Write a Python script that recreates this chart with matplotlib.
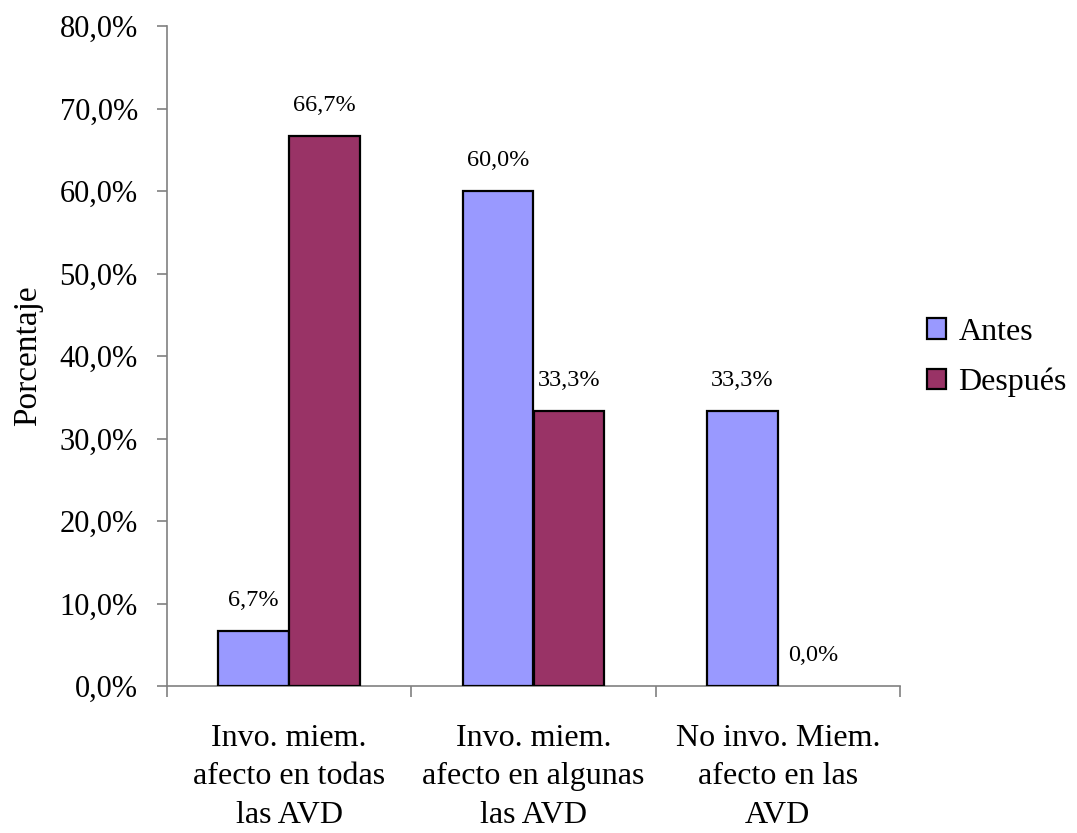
import matplotlib
matplotlib.use("Agg")
import matplotlib.pyplot as plt
import numpy as np

plt.rcParams['font.family'] = ['Liberation Serif', 'DejaVu Serif']

categories = ["Invo. miem.\nafecto en todas\nlas AVD",
              "Invo. miem.\nafecto en algunas\nlas AVD",
              "No invo. Miem.\nafecto en las\nAVD"]
antes = [6.7, 60.0, 33.3]
despues = [66.7, 33.3, 0.0]
series_names = ["Antes", "Después"]
yticks = [0, 10, 20, 30, 40, 50, 60, 70, 80]

fig = plt.figure(figsize=(10.77, 8.33), dpi=100)
ax = fig.add_axes([167 / 1077, 1 - 686 / 833, (900 - 167) / 1077, (686 - 26) / 833])

x = np.arange(len(categories))
w = 0.29
b1 = ax.bar(x - w / 2, antes, w, color="#9999FF", edgecolor="black", linewidth=1.6, label=series_names[0], zorder=3)
b2 = ax.bar(x + w / 2, despues, w, color="#993366", edgecolor="black", linewidth=1.6, label=series_names[1], zorder=3)

def fmt(v):
    return f"{v:.1f}%".replace(".", ",")

for bars, vals in ((b1, antes), (b2, despues)):
    for rect, v in zip(bars, vals):
        if v == 0:
            rect.set_linewidth(0)
        ax.annotate(fmt(v), (rect.get_x() + rect.get_width() / 2, v),
                    xytext=(0, 22), textcoords="offset points",
                    ha="center", va="center", fontsize=17.5)

ax.set_xlim(-0.5, 2.5)
ax.set_ylim(0, 80)
ax.set_yticks(yticks)
ax.set_yticklabels([fmt(v) for v in yticks], fontsize=22)
ax.tick_params(axis="y", length=7, width=1.2, color="#808080", pad=14, direction="out")

ax.set_xticks([-0.5, 0.5, 1.5, 2.5], minor=False)
ax.set_xticklabels([])
ax.tick_params(axis="x", which="major", length=8, width=1.2, color="#808080", direction="out")
ax.set_xticks(x, minor=True)
ax.set_xticklabels(categories, minor=True, fontsize=23, linespacing=1.45)
ax.tick_params(axis="x", which="minor", length=0, pad=27)

for s in ("top", "right"):
    ax.spines[s].set_visible(False)
for s in ("left", "bottom"):
    ax.spines[s].set_color("#808080")
    ax.spines[s].set_linewidth(1.2)

ax.set_ylabel("Porcentaje", fontsize=24, labelpad=12)

leg = ax.legend(loc="center left", bbox_to_anchor=(0.997, 0.498), frameon=False,
                fontsize=23, handlelength=0.6, handleheight=0.6, handletextpad=0.4,
                labelspacing=0.65)

fig.savefig("out.png", dpi=100)
